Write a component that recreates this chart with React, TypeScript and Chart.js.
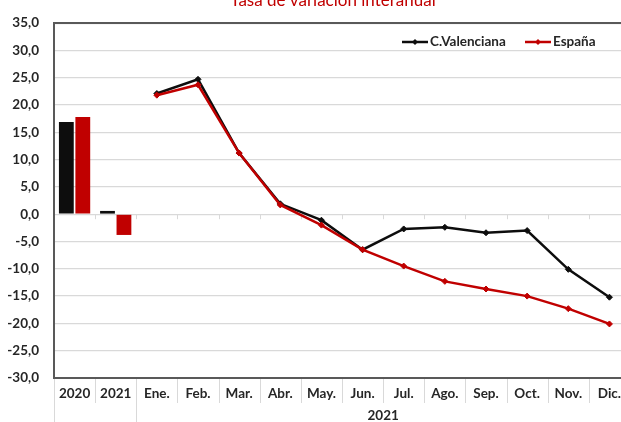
import React, { useEffect, useRef } from "react";
import { Chart, registerables } from "chart.js";

Chart.register(...registerables);

const categories = ["2020", "2021", "Ene.", "Feb.", "Mar.", "Abr.", "May.", "Jun.", "Jul.", "Ago.", "Sep.", "Oct.", "Nov.", "Dic."];
const groupLabel = "2021";
const titleText = "Tasa de variación interanual";
const seriesNames = ["C.Valenciana", "España"];
const barValencia = [16.9, 0.6, null, null, null, null, null, null, null, null, null, null, null, null];
const barEspana = [17.8, -3.8, null, null, null, null, null, null, null, null, null, null, null, null];
const lineValencia = [null, null, 22.1, 24.7, 11.2, 1.9, -1.1, -6.5, -2.7, -2.4, -3.4, -3.0, -10.1, -15.2];
const lineEspana = [null, null, 21.8, 23.7, 11.2, 1.7, -2.0, -6.5, -9.5, -12.3, -13.7, -15.0, -17.3, -20.1];
const yMin = -30;
const yMax = 35;
const yStep = 5;

const BLACK = "#0d0d0d";
const RED = "#c00000";
const GRID = "#d9d9d9";
const BORDER = "#595959";
const TEXT = "#262626";
const FONT = "Lato";

const decor = {
  id: "decor",
  beforeDatasetsDraw(chart: any) {
    const { ctx, chartArea } = chart;
    const y = chart.scales.y;
    const n = categories.length;
    const w = (chartArea.right - chartArea.left) / n;
    const zy = y.getPixelForValue(0);
    ctx.save();
    ctx.strokeStyle = GRID;
    ctx.lineWidth = 1;
    for (let k = 1; k < n; k++) {
      const px = Math.round(chartArea.left + k * w) + 0.5;
      ctx.beginPath();
      ctx.moveTo(px, zy);
      ctx.lineTo(px, zy + 5);
      ctx.stroke();
    }
    ctx.strokeStyle = BORDER;
    ctx.lineWidth = 2;
    ctx.beginPath();
    ctx.moveTo(chartArea.right, chartArea.top);
    ctx.lineTo(chartArea.left, chartArea.top);
    ctx.lineTo(chartArea.left, chartArea.bottom);
    ctx.lineTo(chartArea.right, chartArea.bottom);
    ctx.stroke();
    ctx.restore();
  },
  afterDraw(chart: any) {
    const { ctx, chartArea } = chart;
    const n = categories.length;
    const w = (chartArea.right - chartArea.left) / n;
    const b = chartArea.bottom;
    ctx.save();
    ctx.strokeStyle = GRID;
    ctx.lineWidth = 1;
    for (let k = 0; k <= n; k++) {
      const px = Math.round(chartArea.left + k * w) + 0.5;
      const long = k === 0 || k === 2;
      ctx.beginPath();
      ctx.moveTo(px, b + 1);
      ctx.lineTo(px, long ? chart.height : b + 25);
      ctx.stroke();
    }
    ctx.fillStyle = TEXT;
    ctx.font = `bold 13.5px ${FONT}`;
    ctx.textAlign = "center";
    ctx.textBaseline = "middle";
    const gx = (chartArea.left + 2 * w + chartArea.right) / 2;
    ctx.fillText(groupLabel, gx, 416);

    // title
    ctx.fillStyle = RED;
    ctx.font = `17px ${FONT}`;
    ctx.textBaseline = "alphabetic";
    ctx.fillText(titleText, 333, 6);

    // legend
    const items = [
      { label: seriesNames[0], color: BLACK, x0: 402 },
      { label: seriesNames[1], color: RED, x0: 525 },
    ];
    const ly = 42;
    for (const it of items) {
      ctx.strokeStyle = it.color;
      ctx.lineWidth = 2.5;
      ctx.beginPath();
      ctx.moveTo(it.x0, ly);
      ctx.lineTo(it.x0 + 26, ly);
      ctx.stroke();
      ctx.fillStyle = it.color;
      const cx = it.x0 + 13;
      ctx.beginPath();
      ctx.moveTo(cx, ly - 3);
      ctx.lineTo(cx + 3, ly);
      ctx.lineTo(cx, ly + 3);
      ctx.lineTo(cx - 3, ly);
      ctx.closePath();
      ctx.fill();
      ctx.fillStyle = TEXT;
      ctx.font = `bold 13.5px ${FONT}`;
      ctx.textAlign = "left";
      ctx.textBaseline = "middle";
      ctx.fillText(it.label, it.x0 + 28, ly);
    }
    ctx.restore();
  },
};

export default function App() {
  const ref = useRef<HTMLCanvasElement | null>(null);
  useEffect(() => {
    document.body.style.margin = "0";
    if (!ref.current) return;
    const chart = new Chart(ref.current, {
      type: "bar",
      data: {
        labels: categories,
        datasets: [
          { type: "bar", label: seriesNames[0] + " bar", data: barValencia as any, backgroundColor: BLACK, borderWidth: 0, order: 3, categoryPercentage: 0.8, barPercentage: 0.9 },
          { type: "bar", label: seriesNames[1] + " bar", data: barEspana as any, backgroundColor: RED, borderWidth: 0, order: 3, categoryPercentage: 0.8, barPercentage: 0.9 },
          { type: "line", label: seriesNames[0], data: lineValencia as any, borderColor: BLACK, backgroundColor: BLACK, borderWidth: 2.5, tension: 0, pointStyle: "rectRot", pointRadius: 3, pointBorderWidth: 1, order: 2, spanGaps: false },
          { type: "line", label: seriesNames[1], data: lineEspana as any, borderColor: RED, backgroundColor: RED, borderWidth: 2.5, tension: 0, pointStyle: "rectRot", pointRadius: 3, pointBorderWidth: 1, order: 1, spanGaps: false },
        ],
      },
      options: {
        responsive: false,
        animation: false,
        devicePixelRatio: 1,
        layout: { padding: { top: 18, right: 30, left: 0, bottom: 0 } },
        plugins: { legend: { display: false }, tooltip: { enabled: false }, title: { display: false } },
        scales: {
          x: {
            type: "category",
            offset: true,
            grid: { display: false, drawTicks: false, tickLength: 0 },
            border: { display: false },
            ticks: { color: TEXT, font: { family: FONT, size: 13.5, weight: "bold" }, padding: 8, maxRotation: 0, autoSkip: false },
            afterFit: (s: any) => { s.height = 44; },
          },
          y: {
            min: yMin,
            max: yMax,
            grid: { color: GRID, lineWidth: 1.2, drawTicks: false },
            border: { display: false },
            ticks: {
              stepSize: yStep,
              padding: 15,
              color: TEXT,
              font: { family: FONT, size: 13.5, weight: "bold" },
              callback: (v: any) => Number(v).toFixed(1).replace(".", ","),
            },
            afterFit: (s: any) => { s.width = 54; },
          },
        },
      },
      plugins: [decor],
    });
    return () => chart.destroy();
  }, []);
  return (
    <div style={{ position: "absolute", left: 0, top: 0, width: 621, height: 422, overflow: "hidden", background: "#fff" }}>
      <canvas ref={ref} width={660} height={422} style={{ display: "block" }} />
    </div>
  );
}
